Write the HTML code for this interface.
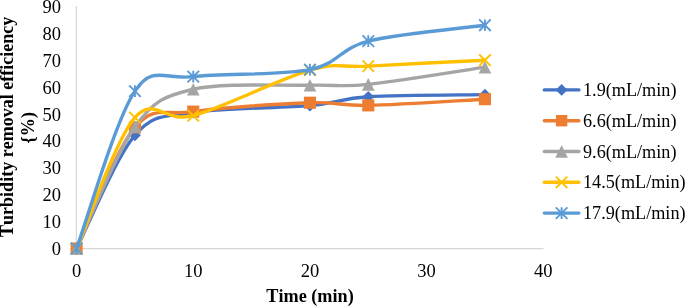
<!DOCTYPE html>
<html><head><meta charset="utf-8"><title>Chart</title>
<style>
html,body{margin:0;padding:0;background:#fff}
svg{display:block}
text{font-family:"Liberation Serif",serif;fill:#000;font-variant-ligatures:none;font-kerning:none}
.t{font-size:18.5px}
.l{font-size:18.2px}
.b{font-size:18.2px;font-weight:bold}
</style></head><body>
<svg width="685" height="306" viewBox="0 0 685 306">
<rect width="685" height="306" fill="#fff"/>
<path d="M76.4 6V248.5H543.5" stroke="#d6d6d6" stroke-width="1.25" fill="none"/>
<text x="61" y="255.00" text-anchor="end" class="t">0</text>
<text x="61" y="228.10" text-anchor="end" class="t">10</text>
<text x="61" y="201.20" text-anchor="end" class="t">20</text>
<text x="61" y="174.30" text-anchor="end" class="t">30</text>
<text x="61" y="147.40" text-anchor="end" class="t">40</text>
<text x="61" y="120.50" text-anchor="end" class="t">50</text>
<text x="61" y="93.60" text-anchor="end" class="t">60</text>
<text x="61" y="66.70" text-anchor="end" class="t">70</text>
<text x="61" y="39.80" text-anchor="end" class="t">80</text>
<text x="61" y="12.90" text-anchor="end" class="t">90</text>
<text x="76.60" y="276.6" text-anchor="middle" class="t">0</text>
<text x="193.27" y="276.6" text-anchor="middle" class="t">10</text>
<text x="309.94" y="276.6" text-anchor="middle" class="t">20</text>
<text x="426.61" y="276.6" text-anchor="middle" class="t">30</text>
<text x="543.28" y="276.6" text-anchor="middle" class="t">40</text>
<text x="310" y="302" text-anchor="middle" class="b">Time (min)</text>
<text transform="translate(12.6,126.8) rotate(-90)" text-anchor="middle" class="b" style="font-size:18.04px">Turbidity removal efficiency</text>
<text transform="translate(33.8,127.7) rotate(-90)" text-anchor="middle" class="b">{%)</text>
<path d="M76.60 248.50C86.32 229.63 115.49 157.89 134.94 135.25C154.38 112.61 164.10 117.59 193.27 112.66C222.44 107.72 280.77 108.31 309.94 105.66C339.11 103.02 339.11 98.62 368.27 96.78C397.44 94.95 465.50 94.99 484.94 94.63" stroke="#4472c4" stroke-width="3.4" fill="none" stroke-linecap="round" stroke-linejoin="round"/>
<path d="M76.60 242.60L82.50 248.50L76.60 254.40L70.70 248.50Z" fill="#4472c4"/>
<path d="M134.94 129.35L140.84 135.25L134.94 141.15L129.03 135.25Z" fill="#4472c4"/>
<path d="M193.27 106.75L199.17 112.66L193.27 118.56L187.37 112.66Z" fill="#4472c4"/>
<path d="M309.94 99.76L315.84 105.66L309.94 111.56L304.04 105.66Z" fill="#4472c4"/>
<path d="M368.27 90.88L374.17 96.78L368.27 102.68L362.38 96.78Z" fill="#4472c4"/>
<path d="M484.94 88.73L490.84 94.63L484.94 100.53L479.04 94.63Z" fill="#4472c4"/>
<path d="M76.60 248.50C86.32 228.32 115.49 150.27 134.94 127.45C154.38 104.63 164.10 115.70 193.27 111.58C222.44 107.45 280.77 103.73 309.94 102.70C339.11 101.67 339.11 105.97 368.27 105.39C397.44 104.81 465.50 100.24 484.94 99.21" stroke="#ed7d31" stroke-width="3.4" fill="none" stroke-linecap="round" stroke-linejoin="round"/>
<rect x="70.55" y="242.45" width="12.10" height="12.10" fill="#ed7d31"/>
<rect x="128.88" y="121.40" width="12.10" height="12.10" fill="#ed7d31"/>
<rect x="187.22" y="105.53" width="12.10" height="12.10" fill="#ed7d31"/>
<rect x="303.89" y="96.65" width="12.10" height="12.10" fill="#ed7d31"/>
<rect x="362.22" y="99.34" width="12.10" height="12.10" fill="#ed7d31"/>
<rect x="478.89" y="93.16" width="12.10" height="12.10" fill="#ed7d31"/>
<path d="M76.60 248.50C86.32 228.19 115.49 153.18 134.94 126.64C154.38 100.10 164.10 96.16 193.27 89.25C222.44 82.35 280.77 86.02 309.94 85.22C339.11 84.41 339.11 87.41 368.27 84.41C397.44 81.41 465.50 70.06 484.94 67.19" stroke="#a5a5a5" stroke-width="3.4" fill="none" stroke-linecap="round" stroke-linejoin="round"/>
<path d="M76.60 242.20L82.90 254.80L70.30 254.80Z" fill="#a5a5a5"/>
<path d="M134.94 120.34L141.24 132.94L128.63 132.94Z" fill="#a5a5a5"/>
<path d="M193.27 82.95L199.57 95.55L186.97 95.55Z" fill="#a5a5a5"/>
<path d="M309.94 78.92L316.24 91.52L303.64 91.52Z" fill="#a5a5a5"/>
<path d="M368.27 78.11L374.57 90.71L361.97 90.71Z" fill="#a5a5a5"/>
<path d="M484.94 60.89L491.24 73.49L478.64 73.49Z" fill="#a5a5a5"/>
<path d="M76.60 248.50C86.32 226.67 115.49 139.64 134.94 117.50C154.38 95.35 164.10 123.50 193.27 115.61C222.44 107.72 280.77 78.40 309.94 70.15C339.11 61.90 339.11 67.78 368.27 66.12C397.44 64.46 465.50 61.19 484.94 60.20" stroke="#ffc000" stroke-width="3.4" fill="none" stroke-linecap="round" stroke-linejoin="round"/>
<path d="M70.90 242.80L82.30 254.20M82.30 242.80L70.90 254.20" stroke="#ffc000" stroke-width="1.9" fill="none"/>
<path d="M129.24 111.80L140.63 123.20M140.63 111.80L129.24 123.20" stroke="#ffc000" stroke-width="1.9" fill="none"/>
<path d="M187.57 109.91L198.97 121.31M198.97 109.91L187.57 121.31" stroke="#ffc000" stroke-width="1.9" fill="none"/>
<path d="M304.24 64.45L315.64 75.85M315.64 64.45L304.24 75.85" stroke="#ffc000" stroke-width="1.9" fill="none"/>
<path d="M362.57 60.42L373.97 71.82M373.97 60.42L362.57 71.82" stroke="#ffc000" stroke-width="1.9" fill="none"/>
<path d="M479.24 54.50L490.64 65.90M490.64 54.50L479.24 65.90" stroke="#ffc000" stroke-width="1.9" fill="none"/>
<path d="M76.60 248.50C86.32 222.27 115.49 119.78 134.94 91.13C153.17 64.27 164.10 80.20 193.27 76.61C222.44 73.02 280.77 75.53 309.94 69.62C339.11 63.70 339.11 48.50 368.27 41.10C397.44 33.70 465.50 27.88 484.94 25.23" stroke="#5b9bd5" stroke-width="3.4" fill="none" stroke-linecap="round" stroke-linejoin="round"/>
<path d="M70.80 242.70L82.40 254.30M82.40 242.70L70.80 254.30M76.60 242.70L76.60 254.30" stroke="#5b9bd5" stroke-width="1.9" fill="none"/>
<path d="M129.13 85.33L140.74 96.93M140.74 85.33L129.13 96.93M134.94 85.33L134.94 96.93" stroke="#5b9bd5" stroke-width="1.9" fill="none"/>
<path d="M187.47 70.81L199.07 82.41M199.07 70.81L187.47 82.41M193.27 70.81L193.27 82.41" stroke="#5b9bd5" stroke-width="1.9" fill="none"/>
<path d="M304.14 63.82L315.74 75.42M315.74 63.82L304.14 75.42M309.94 63.82L309.94 75.42" stroke="#5b9bd5" stroke-width="1.9" fill="none"/>
<path d="M362.47 35.30L374.07 46.90M374.07 35.30L362.47 46.90M368.27 35.30L368.27 46.90" stroke="#5b9bd5" stroke-width="1.9" fill="none"/>
<path d="M479.14 19.43L490.74 31.03M490.74 19.43L479.14 31.03M484.94 19.43L484.94 31.03" stroke="#5b9bd5" stroke-width="1.9" fill="none"/>
<path d="M544.3 89.9H578.9" stroke="#4472c4" stroke-width="3.4" stroke-linecap="round"/>
<path d="M561.60 84.00L567.50 89.90L561.60 95.80L555.70 89.90Z" fill="#4472c4"/>
<text x="583" y="95.9" class="l">1.9(mL/min)</text>
<path d="M544.3 120.7H578.9" stroke="#ed7d31" stroke-width="3.4" stroke-linecap="round"/>
<rect x="555.90" y="115.00" width="11.40" height="11.40" fill="#ed7d31"/>
<text x="583" y="126.7" class="l">6.6(mL/min)</text>
<path d="M544.3 151.5H578.9" stroke="#a5a5a5" stroke-width="3.4" stroke-linecap="round"/>
<path d="M561.60 145.20L567.90 157.80L555.30 157.80Z" fill="#a5a5a5"/>
<text x="583" y="157.5" class="l">9.6(mL/min)</text>
<path d="M544.3 182.3H578.9" stroke="#ffc000" stroke-width="3.4" stroke-linecap="round"/>
<path d="M555.90 176.60L567.30 188.00M567.30 176.60L555.90 188.00" stroke="#ffc000" stroke-width="1.9" fill="none"/>
<text x="583" y="188.3" class="l">14.5(mL/min)</text>
<path d="M544.3 213.1H578.9" stroke="#5b9bd5" stroke-width="3.4" stroke-linecap="round"/>
<path d="M555.80 207.30L567.40 218.90M567.40 207.30L555.80 218.90M561.60 207.30L561.60 218.90" stroke="#5b9bd5" stroke-width="1.9" fill="none"/>
<text x="583" y="219.1" class="l">17.9(mL/min)</text>
</svg>
</body></html>
